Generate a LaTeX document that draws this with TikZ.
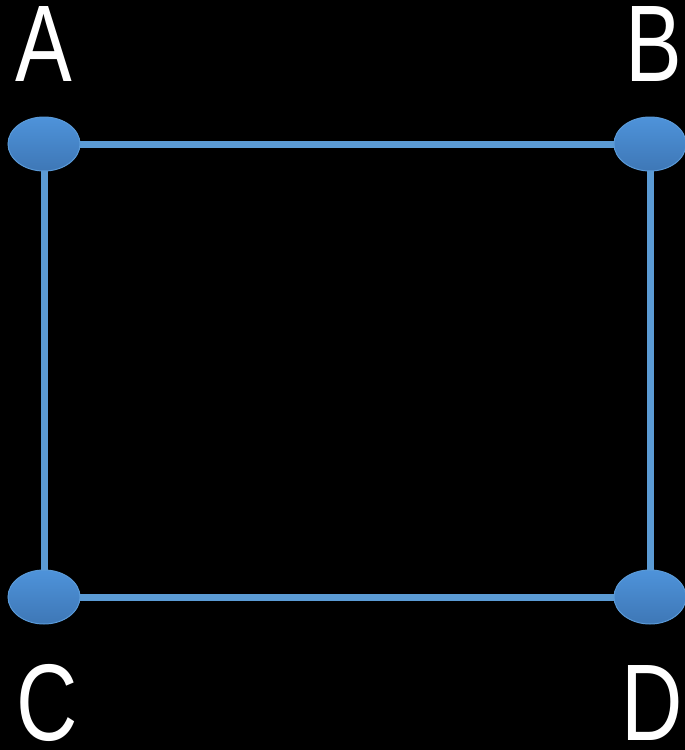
\documentclass[tikz,border=0pt]{standalone}
\usepackage{fontspec}
\setmainfont{Liberation Sans}
\usetikzlibrary{shapes.geometric}
\definecolor{edgeblue}{HTML}{5B9BD5}
\definecolor{topblue}{HTML}{4E93DA}
\definecolor{botblue}{HTML}{3E77B6}
\definecolor{rimblue}{HTML}{5A9AD8}
\pgfdeclarelayer{edges}
\pgfsetlayers{edges,main}
\tikzset{
  vert/.style={ellipse, minimum width=72pt, minimum height=54pt, inner sep=0pt,
    top color=topblue, bottom color=botblue, draw=rimblue, line width=1pt},
  conn/.style={draw=edgeblue, line width=7pt},
  lab/.style={text=white, inner sep=0pt, font=\fontsize{109}{109}\selectfont, xscale=0.78}
}
\begin{document}
\begin{tikzpicture}[x=1pt,y=-1pt]
\begin{pgfonlayer}{edges}
\fill[black] (0,0) rectangle (685,750);
\end{pgfonlayer}
\useasboundingbox (0,0) rectangle (685,750);
\node[vert] (A) at (44,144) {};
\node[vert] (B) at (650,144) {};
\node[vert] (C) at (44,597) {};
\node[vert] (D) at (650,597) {};
\begin{pgfonlayer}{edges}
\draw[conn] (A.center) -- (B.center);
\draw[conn] (B.center) -- (D.center);
\draw[conn] (A.center) -- (C.center);
\draw[conn] (C.center) -- (D.center);
\end{pgfonlayer}
\node[lab] (LA) at (43.5,44) {A};
\node[lab] (LB) at (654,44) {B};
\node[lab] (LC) at (47.5,702.5) {C};
\node[lab] (LD) at (652,702.5) {D};
\end{tikzpicture}
\end{document}
